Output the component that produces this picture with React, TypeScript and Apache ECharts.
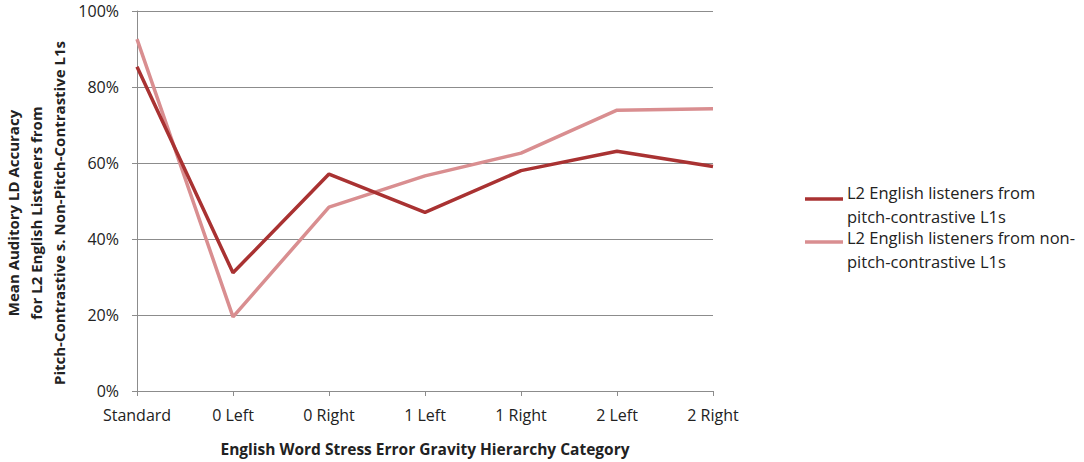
import React, { useEffect, useRef } from "react";
import * as echarts from "echarts";

const categories = ["Standard", "0 Left", "0 Right", "1 Left", "1 Right", "2 Left", "2 Right"];
const pitchContrastive = [0.853, 0.311, 0.571, 0.470, 0.580, 0.631, 0.591];
const nonPitchContrastive = [0.926, 0.195, 0.484, 0.566, 0.626, 0.739, 0.743];
const seriesNameLines = [
  ["L2 English listeners from", "pitch-contrastive L1s"],
  ["L2 English listeners from non-", "pitch-contrastive L1s"],
];
const yTitle = "Mean Auditory LD Accuracy\nfor L2 English Listeners from\nPitch-Contrastive s. Non-Pitch-Contrastive L1s";
const xTitle = "English Word Stress Error Gravity Hierarchy Category";

const DARK = "#A93232";
const PINK = "#D98E90";
const FONT = "'Open Sans', 'Noto Sans', sans-serif";

export default function App() {
  const ref = useRef<HTMLDivElement>(null);
  useEffect(() => {
    if (!ref.current) return;
    const chart = echarts.init(ref.current, null, { renderer: "svg" });
    const legendText = (text: string, y: number) => ({
      type: "text",
      x: 847,
      y,
      style: {
        text,
        fontSize: 16.5,
        fontFamily: FONT,
        fill: "#222",
        align: "left",
        verticalAlign: "middle",
        lineHeight: 18,
      },
    });
    chart.setOption({
      animation: false,
      textStyle: { fontFamily: FONT },
      grid: { left: 137, right: 371, top: 11, bottom: 69, containLabel: false },
      xAxis: {
        type: "category",
        data: categories,
        boundaryGap: false,
        axisLine: { lineStyle: { color: "#8c8c8c", width: 1 } },
        axisTick: { show: true, length: 5, lineStyle: { color: "#8c8c8c" } },
        axisLabel: { color: "#222", fontSize: 16, margin: 16, fontFamily: FONT },
        name: xTitle,
        nameLocation: "middle",
        nameGap: 50,
        nameTextStyle: { color: "#222", fontSize: 15.5, fontWeight: "bold", fontFamily: FONT },
      },
      yAxis: {
        type: "value",
        min: 0,
        max: 1,
        interval: 0.2,
        axisLine: { show: true, lineStyle: { color: "#8c8c8c", width: 1 } },
        axisTick: { show: true, length: 5, lineStyle: { color: "#8c8c8c" } },
        splitLine: { show: true, lineStyle: { color: "#8c8c8c", width: 1 } },
        axisLabel: {
          color: "#222",
          fontSize: 16,
          margin: 18,
          fontFamily: FONT,
          formatter: (v: number) => Math.round(v * 100) + "%",
        },
      },
      series: [
        {
          name: seriesNameLines[0].join(" "),
          type: "line",
          data: pitchContrastive,
          symbol: "none",
          lineStyle: { color: DARK, width: 3.5 },
          z: 3,
        },
        {
          name: seriesNameLines[1].join(""),
          type: "line",
          data: nonPitchContrastive,
          symbol: "none",
          lineStyle: { color: PINK, width: 3.5 },
          z: 2,
        },
      ],
      graphic: [
        {
          type: "text",
          x: 36,
          y: 213,
          rotation: Math.PI / 2,
          style: {
            text: yTitle,
            fontSize: 15,
            fontWeight: "bold",
            fontFamily: FONT,
            fill: "#222",
            align: "center",
            verticalAlign: "middle",
            lineHeight: 23,
          },
        },
        {
          type: "line",
          shape: { x1: 805, y1: 199, x2: 843, y2: 199 },
          style: { stroke: DARK, lineWidth: 3.5 },
        },
        legendText(seriesNameLines[0][0], 192),
        legendText(seriesNameLines[0][1], 216),
        {
          type: "line",
          shape: { x1: 805, y1: 242, x2: 843, y2: 242 },
          style: { stroke: PINK, lineWidth: 3.5 },
        },
        legendText(seriesNameLines[1][0], 237),
        legendText(seriesNameLines[1][1], 261),
      ],
    });
    return () => chart.dispose();
  }, []);
  return (
    <div
      ref={ref}
      style={{ position: "fixed", left: 0, top: 0, width: 1084, height: 462, background: "#fff" }}
    />
  );
}
